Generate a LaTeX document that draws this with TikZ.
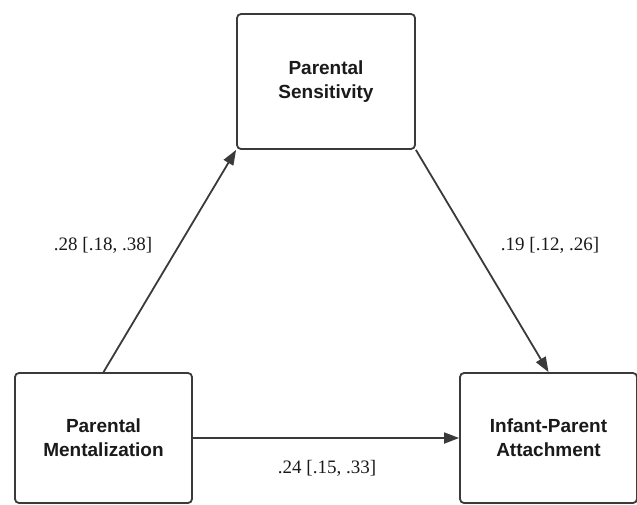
\documentclass[tikz,border=0pt]{standalone}
\usepackage{fontspec}
\setmainfont{Liberation Serif}
\newfontfamily\boxfont{Liberation Sans}
\usetikzlibrary{arrows.meta}
\definecolor{edge}{HTML}{3A3A3A}
\definecolor{ink}{HTML}{1A1A1A}
\tikzset{
  varbox/.style={draw=edge, line width=1.8pt, rounded corners=4pt, fill=white,
    align=center, text=ink, inner sep=0pt,
    font=\boxfont\bfseries\fontsize{19}{24}\selectfont},
  path/.style={draw=edge, line width=1.8pt, -{Triangle[length=15pt,width=11pt]}},
  coef/.style={text=ink, inner sep=0pt, font=\fontsize{19}{22}\selectfont}
}
\begin{document}
\begin{tikzpicture}[x=1pt,y=-1pt]
\useasboundingbox (0,0) rectangle (637,504);
\node[varbox, minimum width=178pt, minimum height=135pt] (sens) at (326,81.5) {Parental\\Sensitivity};
\node[varbox, minimum width=177pt, minimum height=130pt] (ment) at (103.5,438) {Parental\\Mentalization};
\node[varbox, minimum width=177pt, minimum height=130pt] (att) at (548.5,438) {Infant-Parent\\Attachment};
\draw[path] (ment.north) -- (sens.south west);
\draw[path] (sens.south east) -- (att.north);
\draw[path] (ment.east) -- (att.west);
\node[coef] (a) at (103,245) {.28 [.18, .38]};
\node[coef] (b) at (550,245) {.19 [.12, .26]};
\node[coef] (c) at (327,468) {.24 [.15, .33]};
\end{tikzpicture}
\end{document}
